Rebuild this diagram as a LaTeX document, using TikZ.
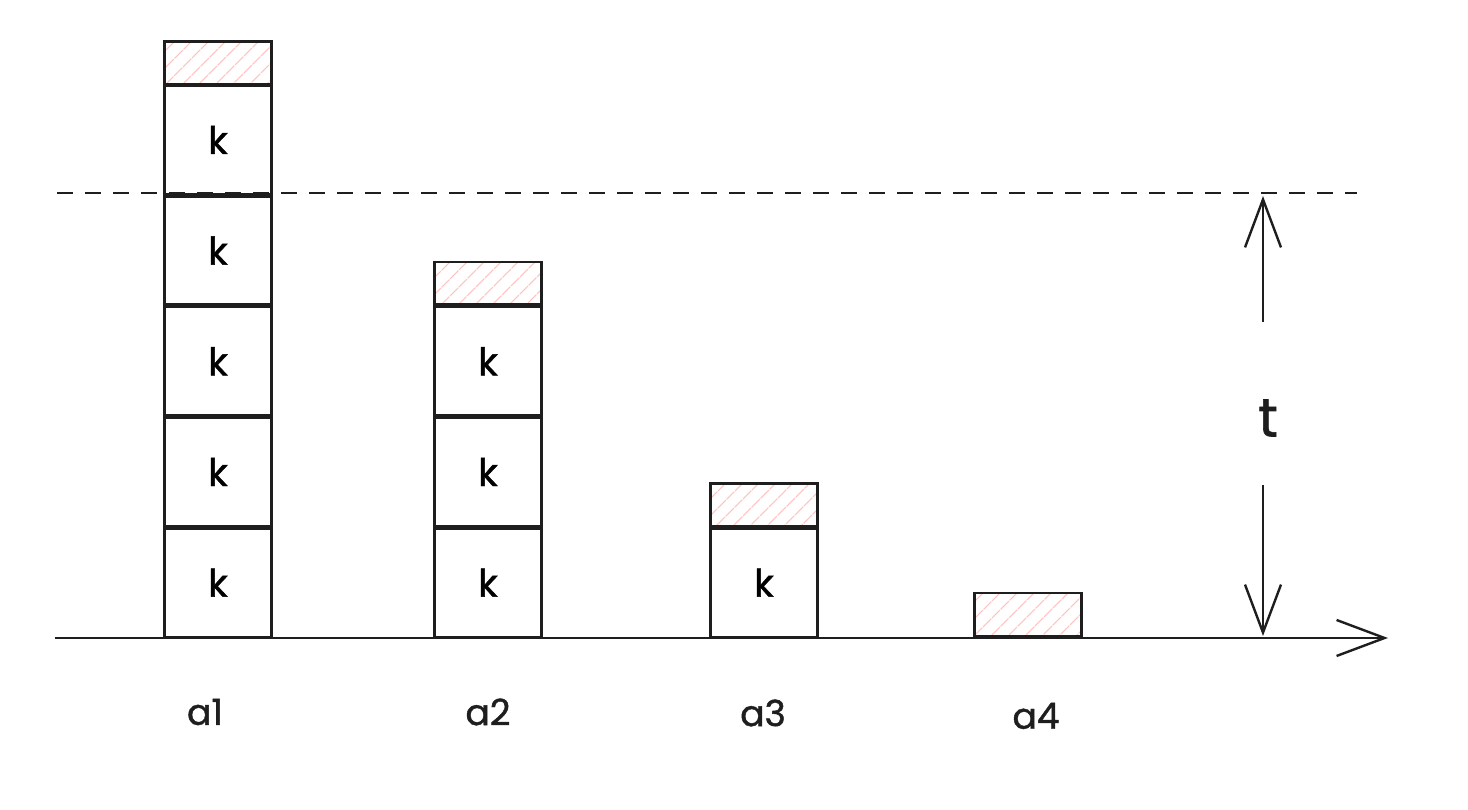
\documentclass[tikz,border=0pt]{standalone}
\usepackage{fontspec}
\setmainfont{Poppins}[FakeBold=1.2]
\usepackage{xcolor}
\usetikzlibrary{arrows.meta,positioning,patterns.meta}

\definecolor{hatchpink}{HTML}{FFC0C0}
\definecolor{inkline}{HTML}{1E1E1E}

\begin{document}
\begin{tikzpicture}[
  x=1pt,y=1pt,
  block/.style={draw=inkline, line width=2.4pt, minimum width=107pt, minimum height=108.3pt, inner sep=0pt, font=\fontsize{38}{44}\selectfont},
  rest/.style={block, minimum height=42.5pt, pattern={Lines[angle=45,distance=13pt,line width=1.2pt]}, pattern color=hatchpink},
  label/.style={font=\fontsize{36}{42}\selectfont, text=inkline},
  arrow/.style={-{Straight Barb[length=48pt,width=36pt,line width=2.4pt]}, line width=2.4pt, draw=inkline}
]
\useasboundingbox (0,0) rectangle (1468,810);
% bar a1
\node[block, anchor=south] (a1k1) at (218,172) {k};
\node[block, above=0pt of a1k1] (a1k2) {k};
\node[block, above=0pt of a1k2] (a1k3) {k};
\node[block, above=0pt of a1k3] (a1k4) {k};
\node[block, above=0pt of a1k4] (a1k5) {k};
\node[rest, above=0pt of a1k5] (a1r) {};
% bar a2
\node[block, anchor=south] (a2k1) at (488,172) {k};
\node[block, above=0pt of a2k1] (a2k2) {k};
\node[block, above=0pt of a2k2] (a2k3) {k};
\node[rest, above=0pt of a2k3] (a2r) {};
% bar a3
\node[block, anchor=south] (a3k1) at (764,172) {k};
\node[rest, above=0pt of a3k1] (a3r) {};
% bar a4
\node[rest, anchor=south] (a4r) at (1028,173) {};
% labels
\node[label] (a1) at (205,98) {a1};
\node[label] (a2) at (488,98) {a2};
\node[label] (a3) at (763,97) {a3};
\node[label] (a4) at (1036,94) {a4};
% axis and threshold
\coordinate (axisL) at (55,172);
\coordinate (axisR) at (1388,172);
\draw[arrow] (axisL) -- (axisR);
\coordinate (dashL) at (57,617);
\coordinate (dashR) at (1357,617);
\draw[draw=inkline, line width=2.4pt, dash pattern=on 16pt off 12pt] (dashL) -- (dashR);
% t span
\node[font=\fontsize{54}{60}\selectfont, text=inkline] (t) at (1268,392) {t};
\coordinate (tTop) at (1263,614);
\coordinate (tUp) at (1263,488);
\coordinate (tDown) at (1263,325);
\coordinate (tBase) at (1263,174);
\draw[arrow] (tUp) -- (tTop);
\draw[arrow] (tDown) -- (tBase);
\end{tikzpicture}
\end{document}
